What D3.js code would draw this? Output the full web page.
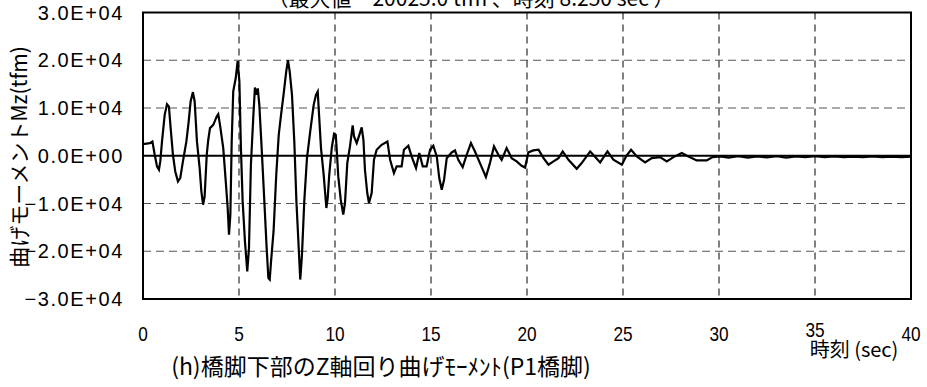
<!DOCTYPE html>
<html>
<head>
<meta charset="utf-8">
<script src="https://cdn.jsdelivr.net/npm/d3@7"></script>
<style>
  html, body { margin: 0; padding: 0; background: #fff; }
  svg { display: block; }
</style>
</head>
<body>
<svg id="chart" width="927" height="387"></svg>
<script>
// Bending moment time history Mz at the base of pier P1
const timeSec = [
  0, 0.35, 0.49, 0.61, 0.73, 0.83, 0.90, 0.99, 1.13, 1.25, 1.35, 1.44, 1.56, 1.68, 1.82, 1.94,
  2.08, 2.26, 2.38, 2.48, 2.60, 2.69, 2.81, 2.95, 3.04, 3.13, 3.21, 3.32, 3.40, 3.49, 3.66, 3.84,
  3.92, 4.01, 4.18, 4.31, 4.41, 4.48, 4.55, 4.62, 4.70, 4.83, 4.93, 5.02, 5.10, 5.19, 5.31, 5.43,
  5.52, 5.62, 5.75, 5.83, 5.92, 5.98, 6.06, 6.18, 6.32, 6.44, 6.53, 6.60, 6.67, 6.80, 6.94, 7.07,
  7.19, 7.33, 7.46, 7.55, 7.64, 7.76, 7.88, 7.99, 8.11, 8.19, 8.28, 8.40, 8.54, 8.71, 8.89, 9.01,
  9.10, 9.17, 9.27, 9.41, 9.55, 9.62, 9.70, 9.83, 9.95, 10.04, 10.09, 10.17, 10.30, 10.43, 10.52,
  10.64, 10.78, 10.92, 10.99, 11.13, 11.27, 11.39, 11.48, 11.56, 11.68, 11.77, 11.91, 12.03, 12.17,
  12.43, 12.73, 12.87, 13.07, 13.21, 13.47, 13.59, 13.82, 13.99, 14.22, 14.39, 14.57, 14.77, 14.95,
  15.12, 15.30, 15.43, 15.56, 15.68, 15.82, 16.08, 16.25, 16.42, 16.65, 16.86, 17.08, 17.29, 17.55,
  17.86, 18.07, 18.28, 18.51, 18.68, 18.94, 19.20, 19.46, 19.72, 19.90, 20.07, 20.33, 20.60, 20.86,
  21.12, 21.38, 21.64, 21.86, 22.16, 22.59, 22.85, 23.29, 23.60, 23.81, 24.19, 24.50, 24.94, 25.16,
  25.42, 25.72, 26.15, 26.50, 26.93, 27.28, 27.63, 28.06, 28.41, 28.84, 29.36, 29.67, 30.06, 30.5,
  31.0, 31.5, 32.0, 32.5, 33.0, 33.5, 34.0, 34.5, 35.0, 35.5, 36.0, 36.5, 37.0, 37.5, 38.0, 38.5,
  39.0, 39.5, 40.0
];
const momentTfm = [
  2440, 2650, 3000, 210, -2230, -2930, -1190, 3000, 8570, 10800, 10300, 5770, 200, -3280, -5370, -4670,
  -1190, 3000, 7180, 11370, 13330, 11370, 3000, -2580, -7460, -10250, -8500, 210, 3350, 5790, 6480, 8230,
  8720, 6480, 1600, -5370, -10950, -16530, -12340, 3000, 13480, 16270, 19800, 15570, 1600, -9560, -17930, -24200,
  -19320, -1890, 8570, 14290, 12760, 14100, 10560, 1600, -9560, -19320, -25600, -25930, -22100, -15800, -4000, 4400,
  8570, 13120, 17650, 20025.0, 17650, 12760, 3000, -9560, -19320, -25930, -20700, -9560, -490, 5090, 10660, 12760,
  13460, 8570, 1600, -4000, -10950, -8860, -4000, 1600, 4600, 4390, 1260, -4320, -9210, -12340, -9900,
  -1540, 1950, 6340, 4040, 2650, 4390, 5930, 3350, -2930, -7810, -9900, -7810, -840, 1260,
  2300, 3000, -840, -3630, -2230, -2230, 1260, 2090, -140, -2580, 560, -2230, -2230, 1260,
  2090, -140, -4670, -7110, -5020, -510, 690, 1120, -860, -2400, 210, 2650, 900, -1540,
  -4460, -1540, 1950, 210, -860, 1600, -510, -1190, -2090, -2480, 700, 1120, 1260, -490,
  -1880, -1190, -490, 900, -840, -2720, -1540, 900, -490, -1400, 900, -840, -1880, -140,
  1260, -140, -1400, -490, -280, -1190, -280, 560, -140, -980, -980, -280, -140, -400,
  -100, -400, -150, -350, -100, -400, -150, -300, -100, -300, -150, -300, -200, -300, -150, -300,
  -200, -300, -200
];

const xTicks = [0, 5, 10, 15, 20, 25, 30, 35, 40];
const yTicks = [-30000, -20000, -10000, 0, 10000, 20000, 30000];
const yTickLabels = ["−3.0E+04", "−2.0E+04", "−1.0E+04", "0.0E+00", "1.0E+04", "2.0E+04", "3.0E+04"];

const titleText = "（最大値　20025.0 tfm 、時刻 8.250 sec ）";
const yTitle = "曲げモーメントMz(tfm)";
const xTitle = "時刻 (sec)";
const caption = "(h)橋脚下部のZ軸回り曲げﾓｰﾒﾝﾄ(P1橋脚)";

const svg = d3.select("#chart");
const plot = { left: 143, right: 911, top: 12.5, bottom: 299 };

const x = d3.scaleLinear().domain([0, 40]).range([plot.left, plot.right]);
const y = d3.scaleLinear().domain([-30000, 30000]).range([plot.bottom, plot.top]);

const jpFont = "'Noto Sans CJK JP', 'Liberation Sans', sans-serif";
const numFont = "'Liberation Sans', Arial, sans-serif";

svg.append("rect").attr("width", 927).attr("height", 387).attr("fill", "#fff");

// horizontal grid
svg.append("g")
  .selectAll("line")
  .data(yTicks.filter(v => v !== 0 && v !== 30000 && v !== -30000))
  .join("line")
  .attr("x1", plot.left).attr("x2", plot.right)
  .attr("y1", d => y(d)).attr("y2", d => y(d))
  .attr("stroke", "#555").attr("stroke-width", 1)
  .attr("stroke-dasharray", "8,5");

// vertical grid
svg.append("g")
  .selectAll("line")
  .data(xTicks.filter(v => v !== 0 && v !== 40))
  .join("line")
  .attr("x1", d => x(d)).attr("x2", d => x(d))
  .attr("y1", plot.top).attr("y2", plot.bottom)
  .attr("stroke", "#000").attr("stroke-width", 1)
  .attr("stroke-dasharray", "7,5");

// zero line
svg.append("line")
  .attr("x1", plot.left).attr("x2", plot.right)
  .attr("y1", y(0)).attr("y2", y(0))
  .attr("stroke", "#000").attr("stroke-width", 2);

// series
const line = d3.line()
  .x(d => x(d[0]))
  .y(d => y(d[1]));
svg.append("path")
  .datum(timeSec.map((t, i) => [t, momentTfm[i]]))
  .attr("d", line)
  .attr("fill", "none")
  .attr("stroke", "#000")
  .attr("stroke-width", 2.2)
  .attr("stroke-linejoin", "miter");

// frame
svg.append("rect")
  .attr("x", plot.left).attr("y", plot.top)
  .attr("width", plot.right - plot.left).attr("height", plot.bottom - plot.top)
  .attr("fill", "none").attr("stroke", "#000").attr("stroke-width", 2);

// y tick labels
svg.append("g")
  .selectAll("text")
  .data(yTicks)
  .join("text")
  .attr("x", 124)
  .attr("y", d => y(d))
  .attr("dy", "0.36em")
  .attr("text-anchor", "end")
  .attr("font-family", numFont)
  .attr("font-size", 20)
  .attr("letter-spacing", 1.6)
  .attr("fill", "#000")
  .text((d, i) => yTickLabels[i]);

// x tick labels (condensed digits)
svg.append("g")
  .selectAll("text")
  .data(xTicks)
  .join("text")
  .attr("transform", d => `translate(${x(d)},${d === 35 ? 329 : 333}) scale(0.82,1)`)
  .attr("dy", "0.36em")
  .attr("text-anchor", "middle")
  .attr("font-family", numFont)
  .attr("font-size", 21)
  .attr("fill", "#000")
  .text(d => d);

// titles
svg.append("text")
  .attr("x", 471).attr("y", 6)
  .attr("text-anchor", "middle")
  .attr("font-family", jpFont)
  .attr("font-size", 21)
  .text(titleText);

svg.append("text")
  .attr("transform", "translate(27,157) rotate(-90)")
  .attr("text-anchor", "middle")
  .attr("font-family", jpFont)
  .attr("font-size", 21)
  .text(yTitle);

svg.append("text")
  .attr("x", 854).attr("y", 357)
  .attr("text-anchor", "middle")
  .attr("font-family", jpFont)
  .attr("font-size", 20)
  .text(xTitle);

svg.append("text")
  .attr("x", 381).attr("y", 375)
  .attr("text-anchor", "middle")
  .attr("font-family", jpFont)
  .attr("font-size", 23)
  .text(caption);
</script>
</body>
</html>
